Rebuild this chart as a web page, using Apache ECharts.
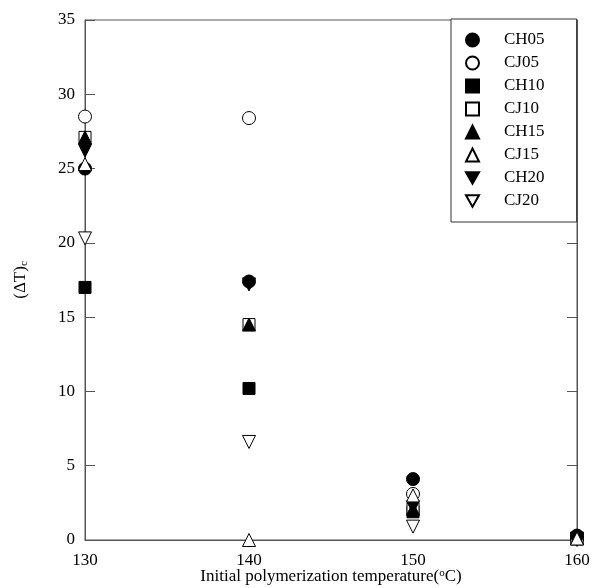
<!DOCTYPE html>
<html><head><meta charset="utf-8">
<script src="https://cdn.jsdelivr.net/npm/echarts@6/dist/echarts.min.js"></script>
<style>html,body{margin:0;padding:0;background:#fff}#c{width:594px;height:588px}</style>
</head><body><div id="c"></div>
<script>
var temps = [130, 140, 150, 160];
var yTicks = [0, 5, 10, 15, 20, 25, 30, 35];
var seriesNames = ['CH05', 'CJ05', 'CH10', 'CJ10', 'CH15', 'CJ15', 'CH20', 'CJ20'];
var CH05 = [25.0, 17.4, 4.1, 0.3];
var CJ05 = [28.5, 28.4, 3.1, 0.1];
var CH10 = [17.0, 10.2, 1.9, 0.1];
var CJ10 = [27.1, 14.5, 2.1, 0.1];
var CH15 = [27.1, 14.5, 2.1, 0.1];
var CJ15 = [25.3, 0.0, 3.0, 0.1];
var CH20 = [26.2, 17.2, 2.2, 0.1];
var CJ20 = [20.3, 6.6, 0.9, 0.0];

var FONT = 'Liberation Serif';
var filled = {color: '#000', borderColor: '#000', borderWidth: 1, opacity: 1};
var open = {color: '#fff', borderColor: '#000', borderWidth: 1, opacity: 1};
var DOWN = 'path://M0,0 L10,0 L5,8.66 Z';
function pts(v) { return temps.map(function (t, i) { return [t, v[i]]; }); }
function s(name, vals, symbol, style, rot, size, z) {
  return {name: name, type: 'scatter', data: pts(vals), symbol: symbol, symbolSize: size,
    symbolRotate: rot, itemStyle: style, z: z, clip: false, emphasis: {disabled: true}};
}
var legendIcons = ['circle', 'circle', 'rect', 'rect', 'triangle', 'triangle', DOWN, DOWN];
var chart = echarts.init(document.getElementById('c'));
chart.setOption({
  animation: false,
  backgroundColor: '#fff',
  grid: {left: 85, right: 17, top: 20, bottom: 48, show: true, borderColor: '#555', borderWidth: 1,
    containLabel: false, outerBoundsMode: 'none'},
  legend: {
    orient: 'vertical', left: 451, top: 19,
    padding: [12, 32, 12, 14], itemGap: 5, itemWidth: 13, itemHeight: 13,
    borderColor: '#333', borderWidth: 1, backgroundColor: '#fff',
    symbolRotate: 0,
    textStyle: {fontFamily: FONT, fontSize: 17, lineHeight: 18, color: '#000', padding: [0, 0, 0, 20]},
    data: seriesNames.map(function (n, i) { return {name: n, icon: legendIcons[i]}; })
  },
  xAxis: {
    type: 'value', min: 130, max: 160, interval: 10,
    axisLine: {show: true, lineStyle: {color: '#555'}},
    axisTick: {show: false}, splitLine: {show: false},
    axisLabel: {fontFamily: FONT, fontSize: 17, color: '#000', margin: 12},
    name: 'Initial polymerization temperature({sup|o}C)',
    nameLocation: 'middle', nameGap: 28, nameMoveOverlap: false,
    nameTextStyle: {fontFamily: FONT, fontSize: 17, lineHeight: 18, color: '#000',
      rich: {sup: {fontFamily: FONT, fontSize: 11, lineHeight: 12, verticalAlign: 'top', color: '#000'}}}
  },
  yAxis: [{
    type: 'value', min: 0, max: 35, interval: 5,
    axisLine: {show: true, lineStyle: {color: '#555'}},
    axisTick: {show: true, inside: true, length: 10, lineStyle: {color: '#555'}},
    splitLine: {show: false},
    axisLabel: {fontFamily: FONT, fontSize: 17, color: '#000', margin: 10},
    name: '(ΔT){sub|c}', nameLocation: 'middle', nameGap: 55, nameRotate: 90, nameMoveOverlap: false,
    nameTextStyle: {fontFamily: FONT, fontSize: 17, color: '#000',
      rich: {sub: {fontFamily: FONT, fontSize: 11, verticalAlign: 'bottom', padding: [8, 0, 0, 0], color: '#000'}}}
  }, {
    type: 'value', min: 0, max: 35, interval: 5, position: 'right',
    axisLine: {show: true, lineStyle: {color: '#555'}},
    axisTick: {show: true, inside: true, length: 10, lineStyle: {color: '#555'}},
    axisLabel: {show: false}, splitLine: {show: false}
  }],
  series: [
    s('CH05', CH05, 'circle', filled, 0, 13, 3),
    s('CJ05', CJ05, 'circle', open, 0, 13, 2),
    s('CH10', CH10, 'rect', filled, 0, 12, 2),
    s('CJ10', CJ10, 'rect', open, 0, 12, 2),
    s('CH15', CH15, 'triangle', filled, 0, 13, 2),
    s('CJ15', CJ15, 'triangle', open, 0, 13, 4),
    s('CH20', CH20, 'triangle', filled, 180, 13, 2),
    s('CJ20', CJ20, 'triangle', open, 180, 13, 2)
  ]
});
</script></body></html>
